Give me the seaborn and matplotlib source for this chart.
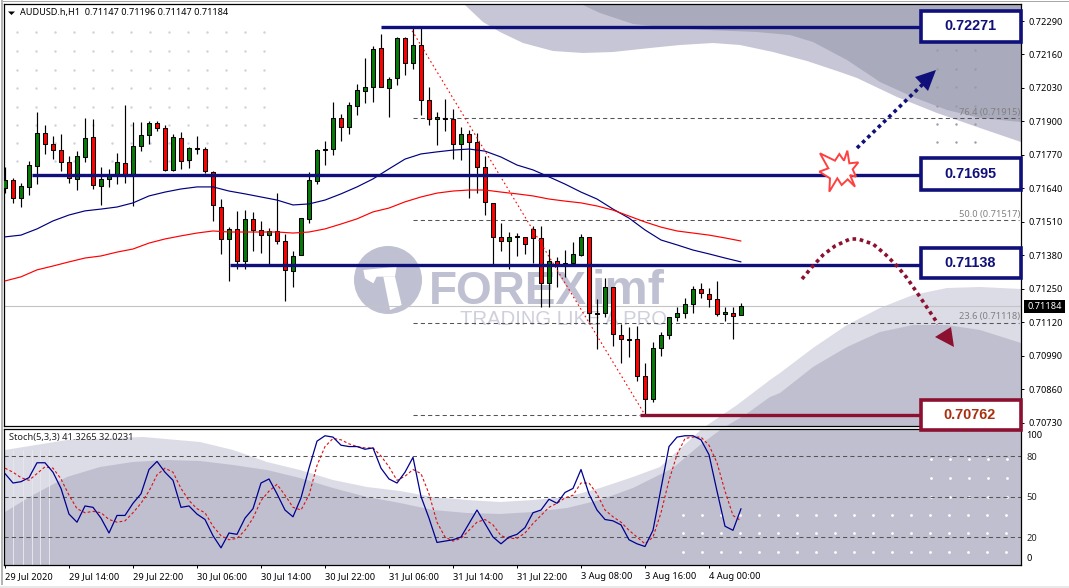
import numpy as np
import matplotlib
matplotlib.use("Agg")
import matplotlib.pyplot as plt
from matplotlib.patches import Polygon, Circle, Rectangle
import seaborn as sns

# ---------------- data (prices in points, 1 point = 0.00001) ----------------
opens = [71643,71672,71602,71644,71729,71854,71811,71788,71741,71678,
         71763,71838,71651,71675,71690,71738,71696,71804,71846,71893,
         71873,71713,71835,71749,71796,71792,71705,71569,71443,71484,
         71357,71523,71478,71458,71474,71435,71318,71381,71523,71670,
         71788,71792,71912,71877,71961,72017,72035,72184,72031,72067,
         72223,72126,72196,71982,71908,71912,71911,71811,71850,71819,
         71722,71582,71450,71435,71450,71450,71481,71446,71274,71360,
         71343,71352,71383,71450,71158,71158,71256,71073,71055,71055,
         70911,70822,71020,71070,71140,71155,71190,71249,71229,71210,
         71152,71158,71147]
closes = [71673,71602,71648,71730,71854,71811,71788,71741,71679,71765,
          71835,71652,71675,71691,71741,71692,71804,71846,71893,71873,
          71713,71838,71745,71796,71792,71707,71575,71443,71484,71357,
          71523,71478,71458,71474,71435,71324,71379,71524,71672,71788,
          71792,71912,71877,71963,72021,72032,72180,72032,72064,72223,
          72126,72196,71982,71908,71916,71908,71814,71850,71819,71722,
          71586,71450,71435,71453,71456,71423,71446,71272,71360,71344,
          71349,71384,71450,71155,71154,71256,71074,71055,71051,70911,
          70822,71020,71070,71140,71155,71190,71249,71233,71210,71152,
          71159,71144,71184]
highs = [71725,71679,71663,71745,71937,71886,71844,71850,71766,71785,
         71914,71910,71723,71716,71776,71964,71898,71898,71902,71902,
         71885,71850,71859,71801,71844,71801,71709,71598,71489,71553,
         71555,71549,71514,71485,71622,71463,71396,71527,71703,71793,
         71824,71976,71929,71974,72045,72146,72193,72240,72071,72227,
         72229,72267,72267,72034,71938,71987,71948,71879,71867,71854,
         71766,71582,71505,71471,71466,71453,71494,71494,71404,71373,
         71401,71431,71463,71450,71211,71293,71256,71114,71101,71106,
         70961,71043,71083,71142,71181,71215,71263,71272,71252,71281,
         71180,71180,71196]
lows = [71621,71582,71569,71616,71657,71774,71753,71708,71663,71634,
        71743,71639,71576,71646,71657,71661,71573,71787,71813,71864,
        71709,71709,71717,71721,71775,71701,71515,71387,71282,71326,
        71326,71397,71390,71343,71426,71205,71259,71381,71507,71659,
        71731,71770,71826,71851,71925,71973,71976,72032,71919,72042,
        72080,72104,71926,71886,71810,71864,71756,71752,71604,71624,
        71538,71343,71399,71329,71378,71387,71352,71181,71181,71259,
        71298,71343,71378,71123,71016,71142,71030,70964,70987,70894,
        70761,70813,70991,71057,71127,71137,71158,71216,71181,71144,
        71127,71057,71147]
ma_bars = list(range(0, 93, 2))
ma_blue = [71452,71459,71483,71514,71537,71553,71560,71568,71584,71611,
           71626,71638,71646,71646,71630,71619,71607,71595,71576,71580,
           71595,71619,71646,71677,71716,71754,71774,71782,71789,71793,
           71785,71762,71731,71712,71685,71657,71626,71599,71560,71525,
           71479,71440,71421,71401,71386,71370,71355]
ma_red = [71281,71297,71324,71339,71355,71370,71378,71393,71405,71428,
          71444,71456,71467,71475,71471,71471,71471,71471,71467,71471,
          71483,71502,71522,71549,71564,71588,71607,71622,71630,71634,
          71634,71626,71619,71611,71599,71591,71584,71572,71556,71533,
          71510,71490,71475,71467,71459,71448,71436]
stoch_main = [67,60,61,64,75,75,68,56,37,31,43,42,34,23,36,36,45,52,70,76,
              68,62,42,43,37,33,21,12,23,22,34,41,60,63,52,40,35,49,71,91,
              95,94,88,87,87,85,86,71,63,60,68,79,50,34,16,17,18,20,30,40,
              30,20,15,20,22,27,38,40,48,45,53,56,70,52,40,33,32,29,18,15,
              13,25,56,87,94,95,95,92,81,54,28,25,41]
stoch_signal = [71,68,64,62,67,72,71,63,51,41,38,39,38,33,31,32,38,45,54,66,
                71,68,56,47,41,38,28,21,18,19,25,34,47,54,59,51,42,40,51,73,
                87,93,92,89,87,86,86,80,72,62,65,70,67,52,31,20,17,19,25,31,
                33,29,21,19,19,23,30,36,42,45,49,51,60,60,52,40,35,31,25,20,
                15,20,38,62,81,93,94,94,88,75,54,36,32]
date_labels = ["29 Jul 2020","29 Jul 14:00","29 Jul 22:00","30 Jul 06:00","30 Jul 14:00",
               "30 Jul 22:00","31 Jul 06:00","31 Jul 14:00","31 Jul 22:00","3 Aug 08:00",
               "3 Aug 16:00","4 Aug 00:00"]
price_ticks = [0.72290,0.72160,0.72030,0.71900,0.71770,0.71640,0.71510,0.71380,
               0.71250,0.71120,0.70990,0.70860,0.70730]
last_price = 0.71184
level_prices = [0.72267,0.71692,0.71341,0.70761]
level_starts = [47.0,3.4,28.1,79.4]
level_texts = ["0.72271","0.71695","0.71138","0.70762"]
fib_prices = [0.71915,0.71517,0.71118,0.70761]
fib_texts = ["76.4 (0.71915)","50.0 (0.71517)","23.6 (0.71118)"]
stoch_levels = [20,50,80]

# ---------------- layout ----------------
W, H = 1069, 588
NAVY, MAROON = "#10107a", "#8c1030"
FONT = "Noto Sans"
sns.set_theme(style="white")
plt.rcParams["font.family"] = [FONT, "DejaVu Sans"]
plt.rcParams["axes.unicode_minus"] = False

def rect(l, t, r, b):
    return [l / W, 1 - b / H, (r - l) / W, (b - t) / H]

fig = plt.figure(figsize=(W / 100, H / 100), dpi=100, facecolor="white")

# background watermark, in picture pixels
bg = fig.add_axes([0, 0, 1, 1], zorder=0)
bg.set_xlim(0, W); bg.set_ylim(H, 0); bg.axis("off")
LIGHT_T, DARK_T = "#c6c6d6", "#aaaabd"
LIGHT_B, DARK_B = "#dcdce6", "#bfbfd0"
top_light = [(465,5),(483,22),(500,32),(523,43),(553,51),(583,53),(613,52),(650,48),(680,45),
             (713,43),(740,45),(773,52),(807,61),(840,72),(857,78),(897,97),(937,113),(980,128),(1021,142),(1021,5)]
top_dark = [(583,5),(600,13),(633,24),(673,28),(707,30),(757,32),(790,35),(813,42),(847,60),
            (880,82),(913,97),(947,110),(980,118),(1021,122),(1021,5)]
bot_light = [(5,565),(5,450),(67,440),(143,437),(200,442),(233,450),(267,462),(300,470),(333,480),
             (367,487),(400,491),(433,497),(467,500),(500,502),(533,500),(567,497),(600,488),(633,477),
             (660,467),(703,428),(737,405),(770,380),(780,373),(813,348),(847,325),(880,308),(913,295),
             (947,288),(980,287),(1021,289),(1021,565)]
bot_dark = [(5,565),(5,512),(33,495),(67,477),(100,467),(133,462),(167,460),(200,461),(233,465),
            (267,470),(300,478),(333,488),(367,497),(400,503),(433,510),(467,513),(500,514),(533,512),
            (567,508),(600,500),(633,488),(673,468),(700,445),(723,428),(745,415),(770,397),(780,393),
            (813,367),(847,347),(880,332),(913,325),(947,325),(980,330),(1021,343),(1021,565)]
for pts, col in [(top_light, LIGHT_T), (top_dark, DARK_T), (bot_light, LIGHT_B), (bot_dark, DARK_B)]:
    bg.add_patch(Polygon(pts, closed=True, fc=col, ec="none"))
for x0 in (13, 23, 32, 40, 49):
    bg.plot([x0, x0], [450, 565], color="#e6e6ee", lw=0.7)
bg.add_patch(Rectangle((4, 426), 1017, 3, fc="white", ec="none"))
# dot grids
gx, gy = np.meshgrid(np.arange(17, 270, 19), [32, 51, 70, 88, 107, 125, 143, 161])
bg.scatter(gx.ravel(), gy.ravel(), s=3, color="#d0d0de", lw=0)
gx, gy = np.meshgrid([937, 956, 975], [50, 69, 87, 106, 124, 142])
bg.scatter(gx.ravel(), gy.ravel(), s=3, color="#9a9aaa", lw=0)
gx, gy = np.meshgrid(np.arange(683, 1010, 19), [515, 533, 552])
bg.scatter(gx.ravel(), gy.ravel(), s=4, color="white", lw=0)
gx, gy = np.meshgrid(np.arange(931, 1010, 19), [459, 478, 497])
bg.scatter(gx.ravel(), gy.ravel(), s=4, color="white", lw=0)
# logo
LOGO = "#bfc0d2"
bg.add_patch(Circle((388, 280), 34, fc=LOGO, ec="none"))
zp = lambda pts: [(340 + a / 3, 235 + b / 3) for a, b in pts]
bg.add_patch(Polygon(zp([(70,105),(170,95),(165,125),(110,125),(100,145),(75,130)]), fc="white", ec="none"))
bg.add_patch(Polygon(zp([(130,125),(165,125),(185,210),(150,225)]), fc="white", ec="none"))
bg.text(429, 304, "FOREX", fontsize=33, fontweight="bold", family="Liberation Sans", color=LOGO, va="baseline", ha="left")
bg.text(592, 304, "imf", fontsize=35, fontweight="bold", family="Liberation Sans", color=LOGO, va="baseline", ha="left")
bg.text(460, 325, "TRADING LIKE A PRO", fontsize=14.6, family="Liberation Sans", color="#cfd0dc", va="baseline", ha="left")

# main price panel
ax = fig.add_axes(rect(4, 4, 1021, 426), zorder=2, facecolor="none")
XL = (-0.125, 127.0)
ax.set_xlim(*XL)
ax.set_ylim(0.70718, 0.72356)
bars = np.arange(len(opens))
O, C, Hi, Lo = [np.array(v) / 1e5 for v in (opens, closes, highs, lows)]
ax.axhline(last_price, color="#c4c4c4", lw=0.8, zorder=1)
for i, p in enumerate(fib_prices):
    end = 79.4 if i == 3 else 126.8
    ax.hlines(p, 51, end, color="#555555", lw=0.75, linestyles=(0, (4, 3)), zorder=1.5)
ax.vlines(bars, Lo, Hi, color="black", lw=0.85, zorder=2)
colors = ["#067a06" if c >= o else "#ff0000" for o, c in zip(O, C)]
ax.bar(bars, np.abs(C - O), bottom=np.minimum(O, C), width=0.56, color=colors,
       edgecolor="black", linewidth=0.75, zorder=3)
sns.lineplot(x=ma_bars, y=np.array(ma_blue) / 1e5, ax=ax, color="#000080", lw=0.85, errorbar=None, zorder=4)
sns.lineplot(x=ma_bars, y=np.array(ma_red) / 1e5, ax=ax, color="#ff0000", lw=0.85, errorbar=None, zorder=4)
ax.plot([50.6, 80], [0.72267, 0.70761], color="#ff0000", lw=0.8, ls=(0, (1.5, 2.5)), zorder=4)
for p, s, c in zip(level_prices, level_starts, [NAVY, NAVY, NAVY, MAROON]):
    ax.hlines(p, s, 114.4, color=c, lw=2.4, zorder=5)
ax.yaxis.tick_right()
ax.set_yticks(price_ticks)
ax.set_yticklabels([f"{t:.5f}" for t in price_ticks], fontsize=6.6, color="black")
ax.tick_params(axis="y", right=True, length=2.5, width=0.7, pad=3, color="black")
ax.set_xticks([])
ax.set_xlabel(""); ax.set_ylabel("")
for s in ax.spines.values():
    s.set_color("black"); s.set_linewidth(0.9); s.set_visible(True)

# stochastic panel
ax2 = fig.add_axes(rect(4, 429, 1021, 565), zorder=2, facecolor="none")
ax2.set_xlim(*XL)
ax2.set_ylim(-0.7, 100)
for lv in stoch_levels:
    ax2.axhline(lv, color="#555555", lw=0.75, ls=(0, (4, 3)), zorder=1)
sns.lineplot(x=bars, y=stoch_signal, ax=ax2, color="#e01010", lw=0.8, ls=(0, (2.5, 2)), errorbar=None, zorder=3)
sns.lineplot(x=bars, y=stoch_main, ax=ax2, color="#000090", lw=0.9, errorbar=None, zorder=4)
ax2.yaxis.tick_right()
ax2.set_yticks(stoch_levels)
ax2.set_yticklabels([str(v) for v in stoch_levels], fontsize=6.7)
ax2.tick_params(axis="y", right=False, length=0, pad=4)
ax2.annotate("100", (1, 100), xycoords=("axes fraction", "data"), xytext=(4, -4.7),
             textcoords="offset points", fontsize=6.7, va="center", ha="left", color="black", annotation_clip=False)
ax2.annotate("0", (1, 0), xycoords=("axes fraction", "data"), xytext=(4, 4.3),
             textcoords="offset points", fontsize=6.7, va="center", ha="left", color="black", annotation_clip=False)
date_ticks = list(range(0, 8 * len(date_labels), 8))
ax2.set_xticks(date_ticks)
ax2.set_xticklabels(date_labels, fontsize=6.7, ha="left", color="black")
ax2.tick_params(axis="x", bottom=True, length=2.5, width=0.7, pad=2.6, color="black")
ax2.set_xlabel(""); ax2.set_ylabel("")
for s in ax2.spines.values():
    s.set_color("black"); s.set_linewidth(0.9); s.set_visible(True)

# overlay annotations, in picture pixels
ov = fig.add_axes([0, 0, 1, 1], zorder=5, facecolor="none")
ov.set_xlim(0, W); ov.set_ylim(H, 0); ov.axis("off")
# frame
ov.add_patch(Rectangle((0.5, 0.8), W - 1, 1.6, fc="#a8a8a8", ec="none"))
ov.add_patch(Rectangle((1, 0), 1.5, H - 3, fc="#b4b4b4", ec="none"))
ov.add_patch(Rectangle((0, H - 2), W, 2, fc="#e8e8e8", ec="none"))
# header texts
ov.add_patch(Polygon([(8, 11.5), (15, 11.5), (11.5, 15)], fc="black", ec="none"))
ov.text(20.5, 12.5, "AUDUSD.h,H1  0.71147 0.71196 0.71147 0.71184", fontsize=6.55, va="center", ha="left", color="black")
ov.text(9, 437.5, "Stoch(5,3,3) 41.3265 32.0231", fontsize=6.7, va="center", ha="left", color="#222222")
for t, y in zip(fib_texts, (113, 214, 317)):
    ov.text(1020, y, t, fontsize=6.7, va="center", ha="right", color="#808080")
# last price tag
ov.add_patch(Rectangle((1024, 300), 41, 13, fc="black", ec="none"))
ov.text(1044.5, 306.5, "0.71184", fontsize=6.6, color="white", va="center", ha="center")
# level boxes
boxes = [(10, 43), (157, 191), (247, 279), (399, 431)]
for (t, b), txt, ec, tc in zip(boxes, level_texts, [NAVY, NAVY, NAVY, MAROON],
                               [NAVY, NAVY, NAVY, "#a83010"]):
    ov.add_patch(Rectangle((921, t + 1), 99.5, b - t - 2, fc="white", ec=ec, lw=2.6))
    ov.text(970, (t + b) / 2, txt, fontsize=10.4, fontweight="bold", family="Liberation Sans",
            color=tc, va="center", ha="center")
# explosion
star = [(120,460),(165,482),(178,462),(192,482),(202,452),(208,490),(235,487),(218,508),(228,530),
        (210,525),(225,560),(203,538),(185,555),(172,535),(148,575),(150,535),(118,515),(145,505)]
ov.add_patch(Polygon([(780 + a / 3, b / 3) for a, b in star], fc="white", ec="#ff4040", lw=1.4, zorder=6))
# dotted arrows
ov.plot([857, 923], [148, 84], color=NAVY, lw=2.6, ls=(0, (1, 1.03)), zorder=6)
ov.add_patch(Polygon([(936, 70), (915, 77), (928, 91)], fc=NAVY, ec="none", zorder=6))
arc_x = [802,812,823,835,850,858,873,885,897,907,920,938]
arc_y = [279,267,255,246,239,239,244,254,266,278,297,324]
ov.plot(arc_x, arc_y, color=MAROON, lw=2.6, ls=(0, (1, 1.03)), zorder=6)
ov.add_patch(Polygon([(935, 337), (951, 327), (954, 347)], fc=MAROON, ec="none", zorder=6))

fig.savefig("out.png", dpi=100)
